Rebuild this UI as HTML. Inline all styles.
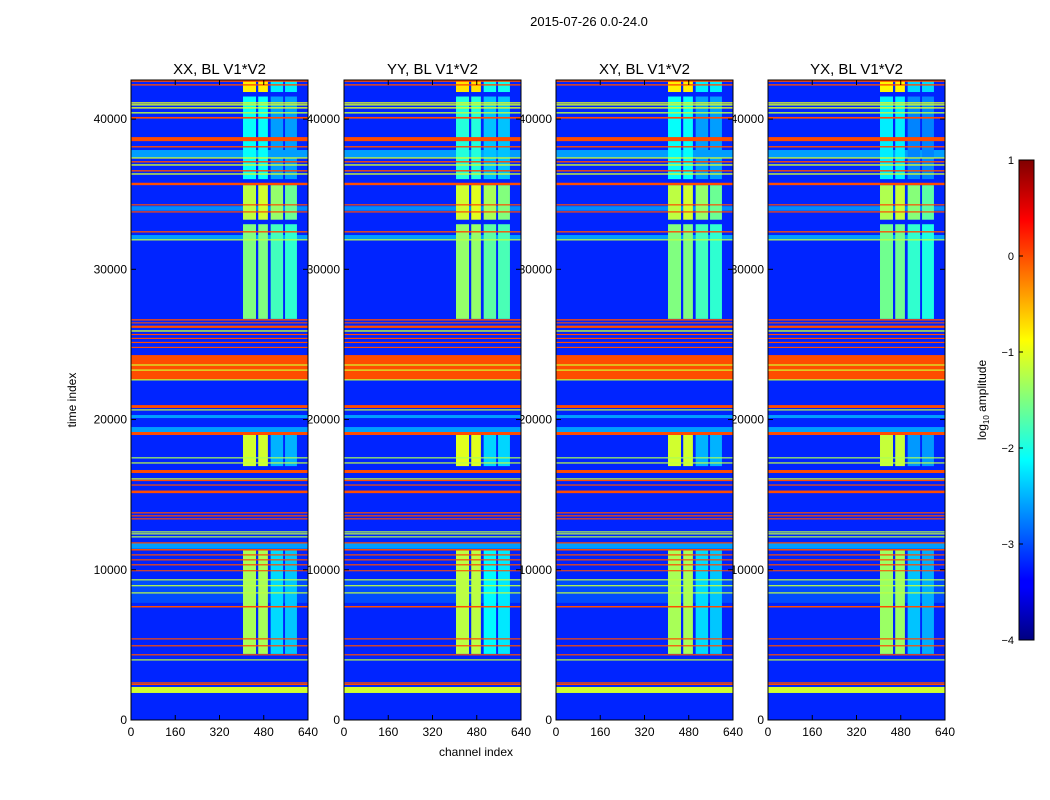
<!DOCTYPE html>
<html><head><meta charset="utf-8"><style>
body{margin:0;background:#fff;}
svg{display:block;font-family:"Liberation Sans",sans-serif;}
</style></head><body>
<svg id="fig" width="1050" height="800" viewBox="0 0 1050 800">
<defs>
<linearGradient id="jet" x1="0" y1="1" x2="0" y2="0">
<stop offset="0" stop-color="#000080"/><stop offset="0.11" stop-color="#0000ff"/>
<stop offset="0.125" stop-color="#0000ff"/><stop offset="0.375" stop-color="#00ffff"/>
<stop offset="0.625" stop-color="#ffff00"/><stop offset="0.875" stop-color="#ff0000"/>
<stop offset="1" stop-color="#800000"/></linearGradient>
</defs>
<text x="589" y="26" font-size="13" text-anchor="middle">2015-07-26 0.0-24.0</text>
<text x="476" y="756" font-size="12" text-anchor="middle">channel index</text>
<text transform="translate(76,400) rotate(-90)" font-size="12" text-anchor="middle">time index</text>
<g id="labels"></g>
<g id="panels"></g>
<g>
<rect x="1019" y="160" width="15" height="480" fill="url(#jet)" stroke="#000" stroke-width="1"/>
</g>
<g id="cbticks"></g>
<text transform="translate(986,400) rotate(-90)" font-size="12" text-anchor="middle">log<tspan font-size="8" dy="3">10</tspan><tspan dy="-3"> amplitude</tspan></text>
</svg>
<script>
const panelTitles=["XX, BL V1*V2","YY, BL V1*V2","XY, BL V1*V2","YX, BL V1*V2"];
const panelX=[131,344,556,768];
const xTicks=[0,160,320,480,640];
const yTicks=[0,10000,20000,30000,40000];
const cbTicks=[1,0,-1,-2,-3,-4];
const background=-3.2;
// horizontal stripes: start time, end time, log10 amplitude
const stripeStart=[42480,42230,41030,40900,40700,40370,40030,38530,38110,37400,37370,37110,36900,36510,36300,35600,34250,33900,33780,32450,31950,31920,26590,26400,26100,25850,25620,25360,25090,24760,22630,23590,23250,22600,
20770,20600,20100,19170,18970,17410,17070,16440,16010,15900,15600,15100,13750,13550,13350,12480,12350,12150,11750,11400,11280,10950,10620,10290,9900,9290,8900,8420,7800,7490,5360,4900,4300,3960,2430,2330,1800];
const stripeEnd  =[42600,42320,41120,40990,40790,40460,40140,38800,38200,37940,37450,37200,36990,36600,36390,35760,34330,34200,33860,32540,32280,32000,26680,26470,26250,25940,25700,25440,25170,24840,24290,23670,23330,22680,
20960,20680,20300,19500,19170,17490,17150,16640,16090,15990,15680,15270,13830,13630,13430,12560,12430,12230,11830,11750,11380,11030,10700,10370,9970,9370,8980,8500,9300,7590,5440,4980,4380,4040,2510,2410,2200];
const stripeVal  =[0,0,-1,-1.1,-1,-1.2,0,0,0,-2.6,-1,0,-1.1,0,-1.1,0,0,-2.7,0,0,-2.6,-1.2,0,0,0,-1.1,0,0,0,0,0,-1.1,-1.1,-1.2,
0,-1.2,-2.6,-2.6,0,-1.3,-1.2,0,-1.2,0,0,0,0,0,0,-1.2,-1.2,-1.2,0,-2.6,0,0,0,0,0,-1.2,-1.2,-1.2,-3.0,0,0,0,0,-1.2,0,0,-1.1];
// vertical RFI bands: channel ranges
const bandCh0=[405,460,505,557];
const bandCh1=[452,495,550,600];
// time blocks for bands and amplitude per band
const blockT0=[41800,36000,33300,26700,16900,4400];
const blockT1=[42600,41500,35600,33000,19000,11300];
const blockVal=[[-0.8,-0.8,-2.2,-2.2],[-2.1,-2.1,-2.6,-2.6],[-1.2,-1.1,-1.4,-1.6],[-1.5,-1.5,-1.8,-1.9],[-1.1,-1.1,-2.5,-2.5],[-1.3,-1.3,-2.3,-2.4]];
const panelBandScale=[1.0,0.93,1.0,1.05];

const NS="http://www.w3.org/2000/svg";
const Y0=720,YMAX=42600,PW=177,PH=640;
function ys(t){return Y0-t/YMAX*PH;}
function xs(p,c){return panelX[p]+c/640*PW;}
function clamp(v){return Math.max(0,Math.min(1,v));}
function jet(v){const t=clamp((v+4)/5);
 const r=clamp(1.5-Math.abs(4*t-3)),g=clamp(1.5-Math.abs(4*t-2)),b=clamp(1.5-Math.abs(4*t-1));
 return `rgb(${Math.round(r*255)},${Math.round(g*255)},${Math.round(b*255)})`;}
function el(tag,attrs,parent){const e=document.createElementNS(NS,tag);for(const k in attrs)e.setAttribute(k,attrs[k]);parent.appendChild(e);return e;}
const labels=document.getElementById('labels'),panels=document.getElementById('panels');
panelX.forEach((px,p)=>{
 const t=el('text',{x:px+PW/2,y:74,'font-size':15,'text-anchor':'middle'},labels);t.textContent=panelTitles[p];
 
 
 yTicks.forEach(v=>{const l=el('text',{x:px-4,y:ys(v)+4,'font-size':12,'text-anchor':'end'},labels);l.textContent=v;
  
  });
 xTicks.forEach(v=>{const l=el('text',{x:xs(p,v),y:736,'font-size':12,'text-anchor':'middle'},labels);l.textContent=v;
  
  });
});
panelX.forEach((px,p)=>{
 const g=el('g',{},panels);
 
 
 el('rect',{x:px,y:80,width:PW,height:PH,fill:jet(background)},g);
 function drawStripes(faint){
  stripeStart.forEach((s,i)=>{
   if((stripeVal[i]< -2.5)!==faint) return;
   const h=Math.max(1,ys(s)-ys(stripeEnd[i]));
   const r=el('rect',{x:px,y:ys(stripeEnd[i]),width:PW,height:h,fill:jet(stripeVal[i])},g);
   
   
  });
 }
 drawStripes(true);
 blockT0.forEach((t0,i)=>{bandCh0.forEach((c0,j)=>{
  const v=blockVal[i][j]*panelBandScale[p];
  const r=el('rect',{x:xs(p,c0),y:ys(blockT1[i]),width:xs(p,bandCh1[j])-xs(p,c0),height:ys(t0)-ys(blockT1[i]),fill:jet(v)},g);
  
  
 });});
 drawStripes(false);
 el('rect',{x:px,y:80,width:PW,height:PH,fill:'none',stroke:'#000','stroke-width':1},g);
 yTicks.forEach(v=>{el('line',{x1:px,x2:px+5,y1:ys(v),y2:ys(v),stroke:'#000'},g);el('line',{x1:px+PW-5,x2:px+PW,y1:ys(v),y2:ys(v),stroke:'#000'},g);});
 xTicks.forEach(v=>{el('line',{x1:xs(p,v),x2:xs(p,v),y1:720,y2:715,stroke:'#000'},g);el('line',{x1:xs(p,v),x2:xs(p,v),y1:80,y2:85,stroke:'#000'},g);});
});
const cbt=document.getElementById('cbticks');
cbTicks.forEach(v=>{const y=160+(1-v)/5*480;
 el('line',{x1:1019,x2:1023,y1:y,y2:y,stroke:'#000'},cbt);
 const l=el('text',{x:1014,y:y+4,'font-size':11,'text-anchor':'end'},cbt);l.textContent=v<0?'\u2212'+(-v):v;
 
 });
</script>
</body></html>
